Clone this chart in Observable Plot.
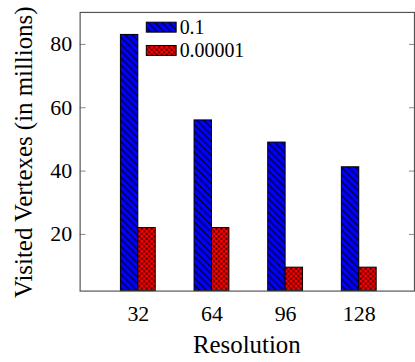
<!DOCTYPE html>
<html>
<head>
<meta charset="utf-8">
<script src="https://cdn.jsdelivr.net/npm/d3@7"></script>
<script src="https://cdn.jsdelivr.net/npm/@observablehq/plot@0.6"></script>
<style>
  html, body { margin: 0; padding: 0; background: #fff; overflow: hidden; width: 415px; height: 362px; }
  #defs { position: absolute; width: 0; height: 0; }
  #chart svg, #chart svg text { font-family: "Liberation Serif", "Times New Roman", serif !important; font-variant: normal !important; }
</style>
</head>
<body>
<svg id="defs" aria-hidden="true">
  <defs>
    <pattern id="nwlines" patternUnits="userSpaceOnUse" width="7" height="7">
      <rect width="7" height="7" fill="#0000ff"></rect>
      <path d="M0,0L7,7M-1,6L1,8M6,-1L8,1" stroke="#000" stroke-width="1.1"></path>
    </pattern>
    <pattern id="xdots" patternUnits="userSpaceOnUse" width="5" height="5">
      <rect width="5" height="5" fill="#000"></rect>
      <circle cx="0" cy="0" r="1.8" fill="#ff0000"></circle>
      <circle cx="5" cy="0" r="1.8" fill="#ff0000"></circle>
      <circle cx="0" cy="5" r="1.8" fill="#ff0000"></circle>
      <circle cx="5" cy="5" r="1.8" fill="#ff0000"></circle>
      <circle cx="2.5" cy="2.5" r="1.8" fill="#ff0000"></circle>
    </pattern>
  </defs>
</svg>
<div id="chart"></div>
<script>
const resolutions = [32, 64, 96, 128];
const seriesNames = ["0.1", "0.00001"];
const values01 = [83, 56, 49, 41.2];
const values00001 = [22, 22, 9.5, 9.5];
const yTicks = [20, 40, 60, 80];

const fills = {"0.1": "url(#nwlines)", "0.00001": "url(#xdots)"};
const serifFont = "\"Liberation Serif\", \"Times New Roman\", serif";

const rowsA = resolutions.map((r, i) => ({res: r, value: values01[i], series: seriesNames[0]}));
const rowsB = resolutions.map((r, i) => ({res: r, value: values00001[i], series: seriesNames[1]}));

const chart = Plot.plot({
  width: 417,
  height: 362,
  marginLeft: 80,
  marginRight: 1,
  marginTop: 12,
  marginBottom: 70,
  style: {fontFamily: serifFont, fontSize: "22px", color: "#000", background: "transparent"},
  x: {type: "band", domain: resolutions, paddingInner: 0.5333, paddingOuter: 0.5067, align: 0.52, label: null},
  y: {domain: [2.1, 90.1], clamp: true, label: null},
  marks: [
    Plot.barY(rowsA, {x: "res", y: "value", fill: fills["0.1"], stroke: "#000", strokeWidth: 1, insetRight: 17.5}),
    Plot.barY(rowsB, {x: "res", y: "value", fill: fills["0.00001"], stroke: "#000", strokeWidth: 1, insetLeft: 17.5}),
    Plot.axisY(yTicks, {anchor: "left", tickSize: 6, dx: 6, stroke: "#888", tickFormat: () => "", label: null}),
    Plot.axisY(yTicks, {anchor: "right", tickSize: 6, dx: -6, stroke: "#888", tickFormat: () => "", label: null}),
    Plot.axisY(yTicks, {anchor: "left", tickSize: 0, tickPadding: 8, fontSize: 22, fill: "#000", label: null}),
    Plot.axisX({tickSize: 0, tickPadding: 14, fontSize: 22, fill: "#000", label: null}),
    Plot.frame({stroke: "#555", strokeWidth: 1.2})
  ]
});

document.getElementById("chart").appendChild(chart);

const svg = d3.select(chart);
// axis titles
svg.append("text")
  .attr("transform", "translate(23,153) rotate(-90)")
  .attr("text-anchor", "middle").attr("dy", "0.35em")
  .attr("font-size", 25).attr("fill", "#000")
  .text("Visited Vertexes (in millions)");
svg.append("text")
  .attr("x", 248).attr("y", 346)
  .attr("text-anchor", "middle").attr("dy", "0.35em")
  .attr("font-size", 25).attr("fill", "#000")
  .text("Resolution");

// legend (inside plot, top-left)
const lg = svg.append("g").attr("font-size", 20).attr("text-anchor", "start");
seriesNames.forEach((name, i) => {
  const y0 = 22.3 + i * 23.4;
  lg.append("rect").attr("x", 147).attr("y", y0).attr("width", 30).attr("height", 10)
    .attr("fill", fills[name]).attr("stroke", "#000").attr("stroke-width", 1);
  lg.append("text").attr("x", 180.5).attr("y", y0 + 5).attr("dy", "0.35em").attr("fill", "#000").text(name);
});

svg.selectAll("text").attr("font-family", serifFont).style("font-family", serifFont);
</script>
</body>
</html>
